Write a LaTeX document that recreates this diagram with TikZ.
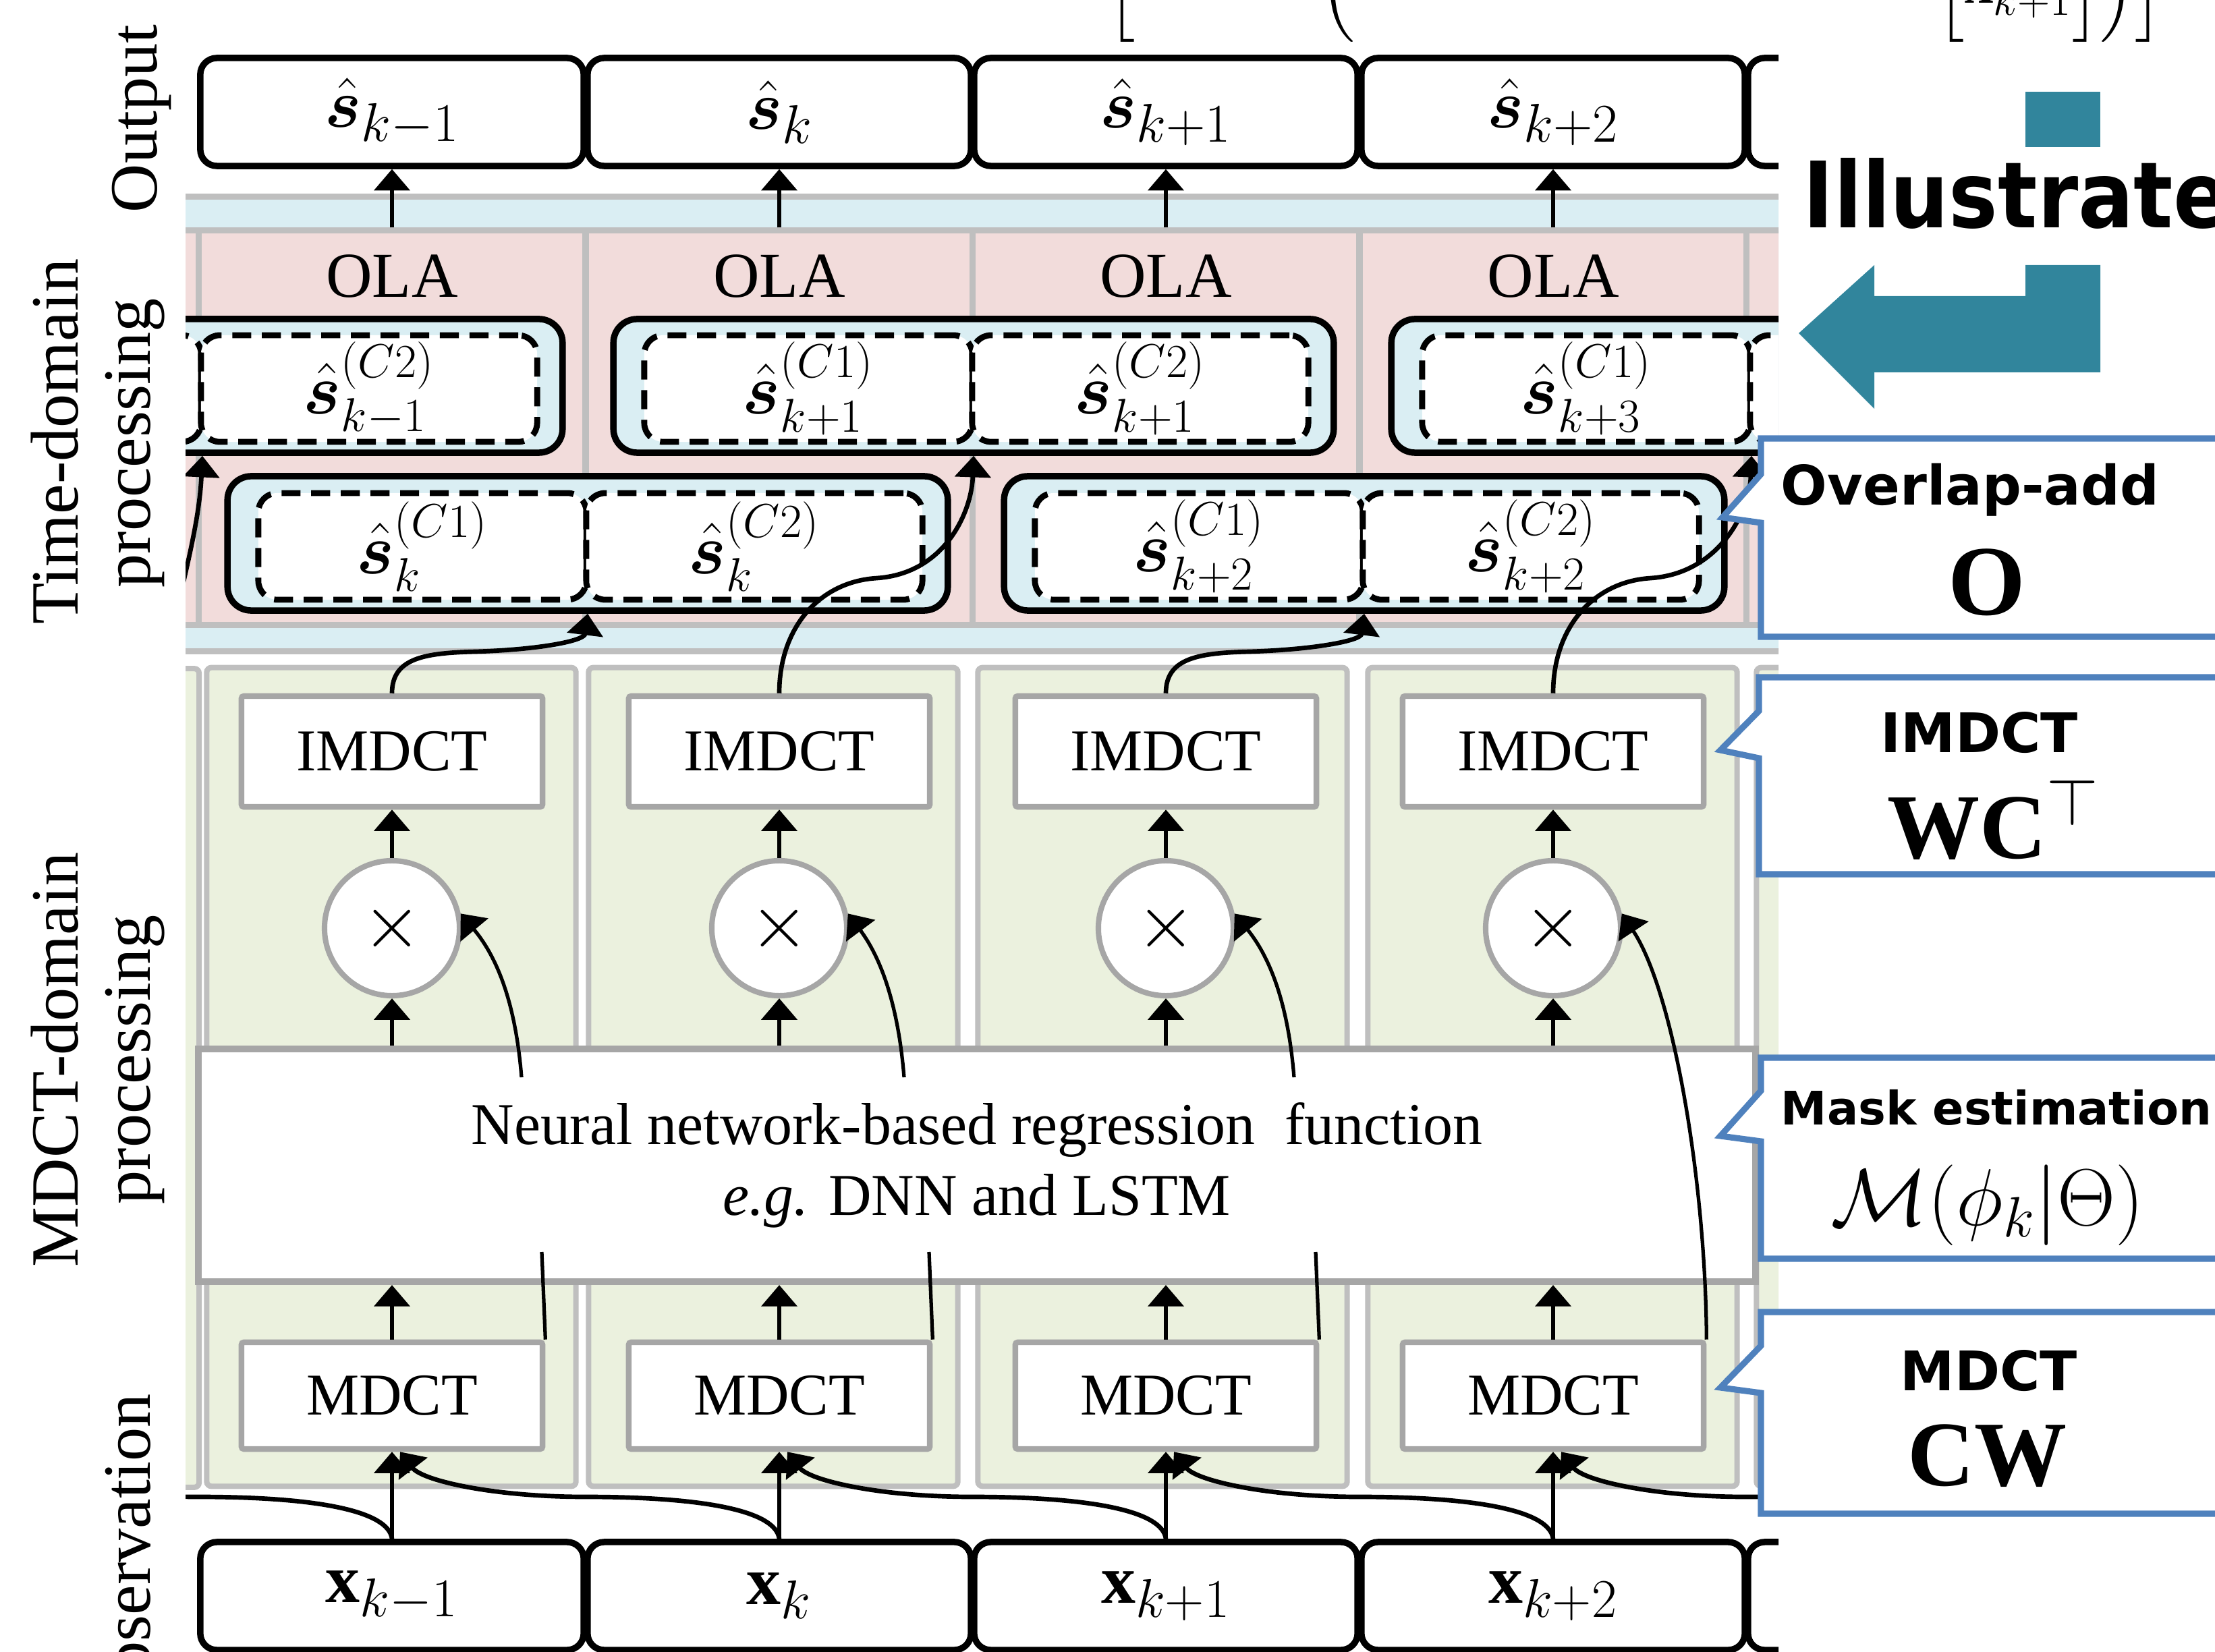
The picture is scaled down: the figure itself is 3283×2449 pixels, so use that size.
\RequirePackage{fix-cm}
\documentclass[tikz,border=0pt]{standalone}
\usepackage{amsmath}
\usepackage{bm}
\usepackage{graphicx}
\usepackage{fontspec}
\setmainfont{Liberation Serif}
\newfontfamily\callfont{DejaVu Sans}
\usetikzlibrary{arrows.meta}
\DeclareMathSizes{24}{24}{19}{14}
\DeclareMathSizes{29}{29}{23}{17}
\DeclareMathSizes{30}{30}{20}{15}
\DeclareMathSizes{34}{34}{24}{17}
\DeclareMathSizes{39}{39}{28}{20}
\definecolor{tdblue}{RGB}{218,238,243}
\definecolor{tdpink}{RGB}{242,220,219}
\definecolor{mdgreen}{RGB}{235,241,222}
\definecolor{lgray}{RGB}{191,191,191}
\definecolor{mgray}{RGB}{166,166,166}
\definecolor{callblue}{RGB}{79,129,189}
\definecolor{arrteal}{RGB}{49,133,156}
\newcommand{\szBox}{\fontsize{24}{28}\selectfont}
\newcommand{\szIO}{\fontsize{29}{32}\selectfont}
\newcommand{\szHalf}{\fontsize{30}{32}\selectfont}
\newcommand{\szOLA}{\fontsize{27}{32}\selectfont}
\newcommand{\szNN}{\fontsize{25}{30}\selectfont}
\newcommand{\szLab}{\fontsize{28.5}{32}\selectfont}
\newcommand{\szCall}{\callfont\bfseries\fontsize{23}{28}\selectfont}
\newcommand{\szCallM}{\fontsize{34}{40}\selectfont}
\newcommand{\szCallL}{\fontsize{39}{44}\selectfont}
\newcommand{\shat}[2]{\hat{\bm{s}}^{(#1)}_{#2}}
\tikzset{
  band/.style={rectangle,draw=lgray,line width=2.5pt,fill=tdblue,inner sep=0pt},
  pinkcol/.style={rectangle,draw=lgray,line width=2.5pt,fill=tdpink,minimum width=5.73cm,minimum height=5.84cm,inner sep=0pt},
  greencol/.style={rectangle,draw=lgray,line width=2.3pt,fill=mdgreen,rounded corners=2pt,minimum height=12.13cm,inner sep=0pt},
  iobox/.style={rectangle,draw=black,line width=2.7pt,fill=white,rounded corners=7pt,minimum width=5.68cm,minimum height=1.6cm,inner sep=0pt,font=\szIO},
  pairbox/.style={rectangle,draw=black,line width=2.7pt,fill=tdblue,rounded corners=10pt,minimum width=10.67cm,minimum height=1.98cm,inner sep=0pt},
  halfbox/.style={rectangle,draw=black,line width=2.5pt,dash pattern=on 8pt off 4.5pt,fill=white,rounded corners=8pt,minimum height=1.58cm,inner sep=0pt,font=\szHalf},
  trbox/.style={rectangle,draw=mgray,line width=2.4pt,fill=white,rounded corners=1pt,minimum width=4.46cm,inner sep=0pt,font=\szNN},
  mulc/.style={circle,draw=mgray,line width=2.3pt,fill=white,minimum size=2cm,inner sep=0pt,font=\fontsize{32}{32}\selectfont},
  nnbox/.style={rectangle,draw=mgray,line width=2.8pt,fill=white,inner sep=0pt,align=center,font=\szNN},
  ola/.style={font=\szOLA,inner sep=0pt},
  arr/.style={-{Triangle[length=9pt,width=15pt]},line width=1.5pt},
  carr/.style={-{Triangle[length=9pt,width=15pt]},line width=1.9pt},
  plain/.style={line width=1.5pt},
  vlab/.style={rotate=90,anchor=base,font=\szLab,inner sep=0pt},
  callout/.style={draw=callblue,line width=2.6pt,fill=white},
  calltxt/.style={anchor=base,inner sep=0pt,font=\szCall},
  callmath/.style={anchor=base,inner sep=0pt,font=\szCallM},
}
\begin{document}
\begin{tikzpicture}[x=0.01cm,y=-0.01cm]
\useasboundingbox (0,0) rectangle (3283,2449);
\begin{scope}
\clip (275,0) rectangle (2636,2449);
% ---- time-domain band ----
\node[band,minimum width=28cm,minimum height=6.73cm] (tdband) at (1600,628.5) {};
\foreach \i/\c in {0/8,1/581,2/1155,3/1728,4/2302,5/2875}{
  \node[pinkcol] (pink\i) at (\c,634) {};
}
\foreach \i/\c in {1/581,2/1155,3/1728,4/2302}{
  \node[ola] (ola\i) at (\c,410) {OLA};
}
% pair boxes
\node[pairbox] (A0) at (300,572) {};
\node[pairbox] (A1) at (1443,572) {};
\node[pairbox] (A2) at (2596,572) {};
\node[pairbox,minimum height=1.99cm] (B1) at (871,805.5) {};
\node[pairbox,minimum height=1.99cm] (B2) at (2022,805.5) {};
\node[halfbox,minimum width=4.86cm] (A0l) at (55,576) {};
\node[halfbox,minimum width=4.98cm] (A0r) at (547,576) {$\shat{C2}{k-1}$};
\node[halfbox,minimum width=4.86cm] (A1l) at (1198,576) {$\shat{C1}{k+1}$};
\node[halfbox,minimum width=4.98cm] (A1r) at (1690,576) {$\shat{C2}{k+1}$};
\node[halfbox,minimum width=4.86cm] (A2l) at (2351,576) {$\shat{C1}{k+3}$};
\node[halfbox,minimum width=4.98cm] (A2r) at (2843,576) {};
\node[halfbox,minimum width=4.86cm] (B1l) at (626,810) {$\shat{C1}{k}$};
\node[halfbox,minimum width=4.98cm] (B1r) at (1118,810) {$\shat{C2}{k}$};
\node[halfbox,minimum width=4.86cm] (B2l) at (1777,810) {$\shat{C1}{k+2}$};
\node[halfbox,minimum width=4.98cm] (B2r) at (2269,810) {$\shat{C2}{k+2}$};
% ---- MDCT-domain ----
\node[greencol,minimum width=2.9cm] (g0) at (150,1598) {};
\foreach \i/\c in {1/580,2/1146,3/1723,4/2301,5/2877}{
  \node[greencol,minimum width=5.47cm] (g\i) at (\c,1596.5) {};
}
\node[nnbox,minimum width=23.06cm,minimum height=3.45cm] (nn) at (1448,1727.5)
  {Neural network-based regression\ \ function\\\textit{e.g.} DNN and LSTM};
\foreach \i/\c in {1/581,2/1155,3/1728,4/2302}{
  \node[trbox,minimum height=1.64cm] (imdct\i) at (\c,1114) {IMDCT};
  \node[mulc] (mul\i) at (\c,1376) {$\times$};
  \node[trbox,minimum height=1.58cm] (mdct\i) at (\c,2069) {MDCT};
}
% ---- output / input rows ----
\foreach \i/\c/\s in {1/581/k-1,2/1155/k,3/1728/k+1,4/2302/k+2}{
  \node[iobox] (out\i) at (\c,166) {$\hat{\bm{s}}_{\s}$};
  \node[iobox] (inp\i) at (\c,2366) {$\mathbf{x}_{\s}$};
}
\node[iobox] (out5) at (2875,166) {};
\node[iobox] (inp5) at (2875,2366) {};
% ---- straight arrows ----
\foreach \i in {1,2,3,4}{
  \draw[arr] (out\i.south |- pink\i.north) -- (out\i.south);
  \draw[arr] (mul\i.north) -- (imdct\i.south);
  \draw[arr] (mul\i.south |- nn.north) -- (mul\i.south);
  \draw[arr] (mdct\i.north) -- (mdct\i.north |- nn.south);
  \draw[arr] (inp\i.north) -- (mdct\i.south);
}
% lines from MDCT into the network
\foreach \i/\c in {1/581,2/1155,3/1728}{
  \coordinate (nni\i) at (\c+222,1856);
  \draw[plain] (mdct\i.north east) -- (nni\i);
}
% mask arrows from the network to the multipliers
\coordinate (nno1) at (773,1597);
\coordinate (nno2) at (1340,1597);
\coordinate (nno3) at (1918,1597);
\draw[arr] (nno1) .. controls (766,1510) and (746,1430) .. (mul1.12);
\draw[arr] (nno2) .. controls (1333,1510) and (1313,1430) .. (mul2.12);
\draw[arr] (nno3) .. controls (1911,1510) and (1891,1430) .. (mul3.12);
\draw[arr] (mdct4.north east) .. controls (2528,1750) and (2480,1470) .. (mul4.12);
% IMDCT outputs to overlap-add segments
\coordinate (i0) at (262,905);
\draw[carr] (i0) .. controls (282,820) and (296,760) .. (A0.south);
\draw[carr] (imdct1.north) .. controls (581,975) and (630,968) .. (705,966) .. controls (800,963) and (866,950) .. (B1.south);
\draw[carr] (imdct2.north) .. controls (1155,930) and (1215,862) .. (1300,857) .. controls (1400,850) and (1440,760) .. (A1.south);
\draw[carr] (imdct3.north) .. controls (1728,975) and (1777,968) .. (1852,966) .. controls (1947,963) and (2017,950) .. (B2.south);
\draw[carr] (imdct4.north) .. controls (2302,930) and (2362,862) .. (2447,857) .. controls (2547,850) and (2593,760) .. (A2.south);
% inputs to the previous MDCT
\coordinate (m0) at (20,2150);
\draw[carr] (inp1.north) .. controls (576,2240) and (471,2219) .. (293,2219) .. controls (158,2219) and (43,2195) .. (m0);
\draw[carr] (inp2.north) .. controls (1150,2240) and (1045,2219) .. (867,2219) .. controls (731,2219) and (626,2195) .. ([xshift=0.12cm]mdct1.south);
\draw[carr] (inp3.north) .. controls (1723,2240) and (1618,2219) .. (1440,2219) .. controls (1305,2219) and (1200,2195) .. ([xshift=0.12cm]mdct2.south);
\draw[carr] (inp4.north) .. controls (2297,2240) and (2192,2219) .. (2014,2219) .. controls (1878,2219) and (1773,2195) .. ([xshift=0.12cm]mdct3.south);
\draw[carr] (inp5.north) .. controls (2870,2240) and (2765,2219) .. (2587,2219) .. controls (2452,2219) and (2347,2195) .. ([xshift=0.12cm]mdct4.south);
\end{scope}
% ---- left labels ----
\node[vlab] (lOut) at (232,176) {Output};
\node[vlab] (lTD1) at (115,655) {Time-domain};
\node[vlab] (lTD2) at (222,657) {processing};
\node[vlab] (lMD1) at (115,1571) {MDCT-domain};
\node[vlab] (lMD2) at (222,1571) {processing};
\node[vlab] (lObs) at (222,2311) {Observation};
% ---- top formula fragments ----
\node[anchor=base,inner sep=0pt,font=\szBox] (tf1) at (1662,5) {$\Bigl[$};
\node[anchor=base,inner sep=0pt,font=\szBox] (tf2) at (1983,5) {$\Bigl($};
\node[anchor=base west,inner sep=0pt,font=\szBox] (tf3) at (2870,5) {$\Bigl[\mathbf{x}_{k+1}\Bigr]\Bigr)\Bigr]$};
% ---- teal arrow and title ----
\fill[arrteal] (3002,136) rectangle (3113,218);
\fill[arrteal] (2666,494) -- (2778,393) -- (2778,439) -- (3002,439) -- (3002,393) -- (3113,393) -- (3113,552) -- (2778,552) -- (2778,606) -- cycle;
\node[anchor=base west,inner sep=0pt,font=\callfont\bfseries\fontsize{38.6}{40}\selectfont] (illu) at (2672,338) {\scalebox{0.9}[1]{Illustrate}};
% ---- callouts ----
\draw[callout] (3300,650) -- (2610,650) -- (2610,703) -- (2553,767) -- (2610,775) -- (2610,944) -- (3300,944) -- cycle;
\node[calltxt] (c1a) at (2920,749) {Overlap-add};
\node[callmath,font=\fontsize{42}{46}\selectfont] (c1b) at (2945,912) {$\mathbf{O}$};
\draw[callout] (3300,1004) -- (2607,1004) -- (2607,1054) -- (2550,1112) -- (2607,1124) -- (2607,1296) -- (3300,1296) -- cycle;
\node[calltxt] (c2a) at (2934,1116) {IMDCT};
\node[callmath,font=\szCallL] (c2b) at (2955,1273) {$\mathbf{W}\mathbf{C}^{\top}$};
\draw[callout] (3300,1568) -- (2610,1568) -- (2610,1617) -- (2550,1684) -- (2610,1692) -- (2610,1866) -- (3300,1866) -- cycle;
\node[calltxt,font=\callfont\bfseries\fontsize{19.5}{24}\selectfont] (c3a) at (2959,1667) {Mask estimation};
\node[callmath] (c3b) at (2946,1816) {$\mathcal{M}(\phi_k|\Theta)$};
\draw[callout] (3300,1945) -- (2610,1945) -- (2610,1995) -- (2550,2057) -- (2610,2065) -- (2610,2244) -- (3300,2244) -- cycle;
\node[calltxt] (c4a) at (2948,2061) {MDCT};
\node[callmath,font=\szCallL] (c4b) at (2946,2202) {$\mathbf{C}\mathbf{W}$};
\end{tikzpicture}
\end{document}
